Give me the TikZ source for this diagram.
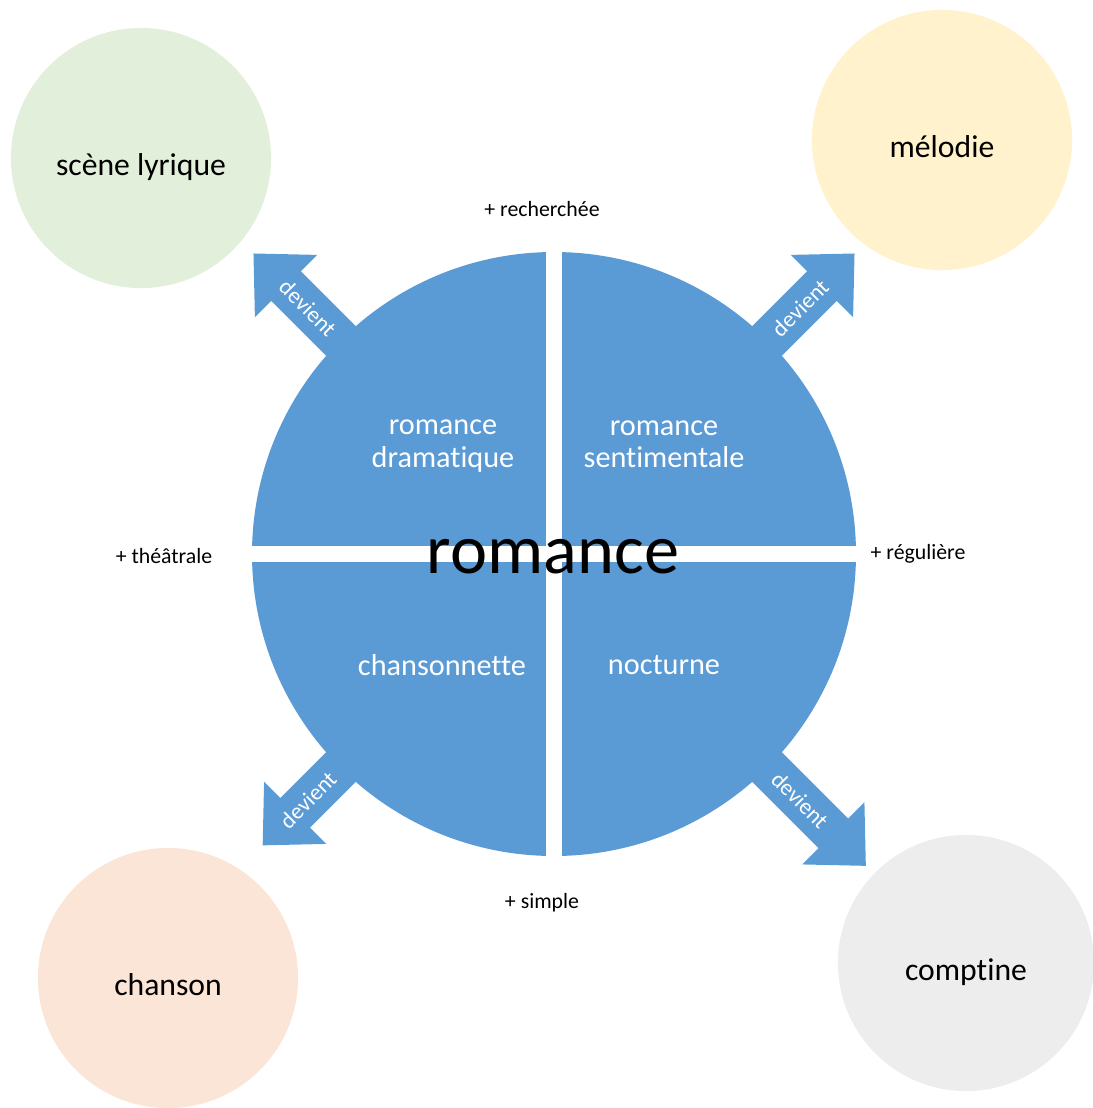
\documentclass[tikz,border=0pt]{standalone}
\usepackage{fontspec}
\setmainfont{Carlito}[Ligatures=NoCommon]
\usepackage{tikz}
\usetikzlibrary{calc}
\definecolor{romblue}{HTML}{5B9BD5}
\definecolor{lyrgreen}{HTML}{E2EFDA}
\definecolor{melyellow}{HTML}{FFF2CC}
\definecolor{chanpeach}{HTML}{FBE5D6}
\definecolor{compgrey}{HTML}{EDEDED}

\begin{document}
\begin{tikzpicture}[x=0.01cm,y=0.01cm,
  bubble/.style={circle,minimum size=2.6cm,inner sep=0pt,text height=10pt,text depth=0pt,
    font=\fontsize{9}{11}\selectfont},
  quart/.style={text=white,align=center,font=\fontsize{8.6}{9.2}\selectfont},
  side/.style={font=\fontsize{6.2}{7}\selectfont},
  devlbl/.style={text=white,inner sep=0pt,font=\fontsize{6.5}{7}\selectfont}]
\useasboundingbox (0,0) rectangle (1093,-1108);

\node[bubble,fill=lyrgreen] (lyrique) at (141,-158) {scène lyrique};
\node[bubble,fill=melyellow] (melodie) at (942,-140) {mélodie};
\node[bubble,fill=chanpeach] (chanson) at (168,-978) {chanson};
\node[bubble,fill=compgrey,minimum size=2.56cm] (comptine) at (966,-963) {comptine};

\coordinate (c) at (554,-554);
\foreach \ang/\len/\rot [count=\i] in {135/425/-45,45/425/45,225/412/45,-45/441/-45}{
  \begin{scope}[shift={(c)},rotate=\ang]
    \fill[romblue] (200,-21) -- (\len-46,-21) -- (\len-46,-44) -- (\len,0)
      -- (\len-46,44) -- (\len-46,21) -- (200,21) -- cycle;
  \end{scope}
  \node[devlbl,rotate=\rot] (dev\i) at ($(c)+(\ang:348)$) {devient};
}

\begin{scope}
\clip (c) circle (302);
\fill[romblue] ($(c)+(8,8)$) rectangle ++(300,300);
\fill[romblue] ($(c)+(-8,8)$) rectangle ++(-300,300);
\fill[romblue] ($(c)+(-8,-8)$) rectangle ++(-300,-300);
\fill[romblue] ($(c)+(8,-8)$) rectangle ++(300,-300);
\end{scope}

\node[quart] (dram) at (443,-446) {romance\\dramatique};
\node[quart] (sent) at (664,-444) {romance\\sentimentale};
\node[quart] (chsn) at (442,-665) {chansonnette};
\node[quart] (noct) at (664,-665) {nocturne};
\node[font=\fontsize{20}{24}\selectfont] (rom) at (553,-557) {romance};

\node[side] (rech) at (542,-209) {+ recherchée};
\node[side] (theat) at (164,-556) {+ théâtrale};
\node[side] (regul) at (918,-554) {+ régulière};
\node[side] (simp) at (542,-903) {+ simple};
\end{tikzpicture}
\end{document}
